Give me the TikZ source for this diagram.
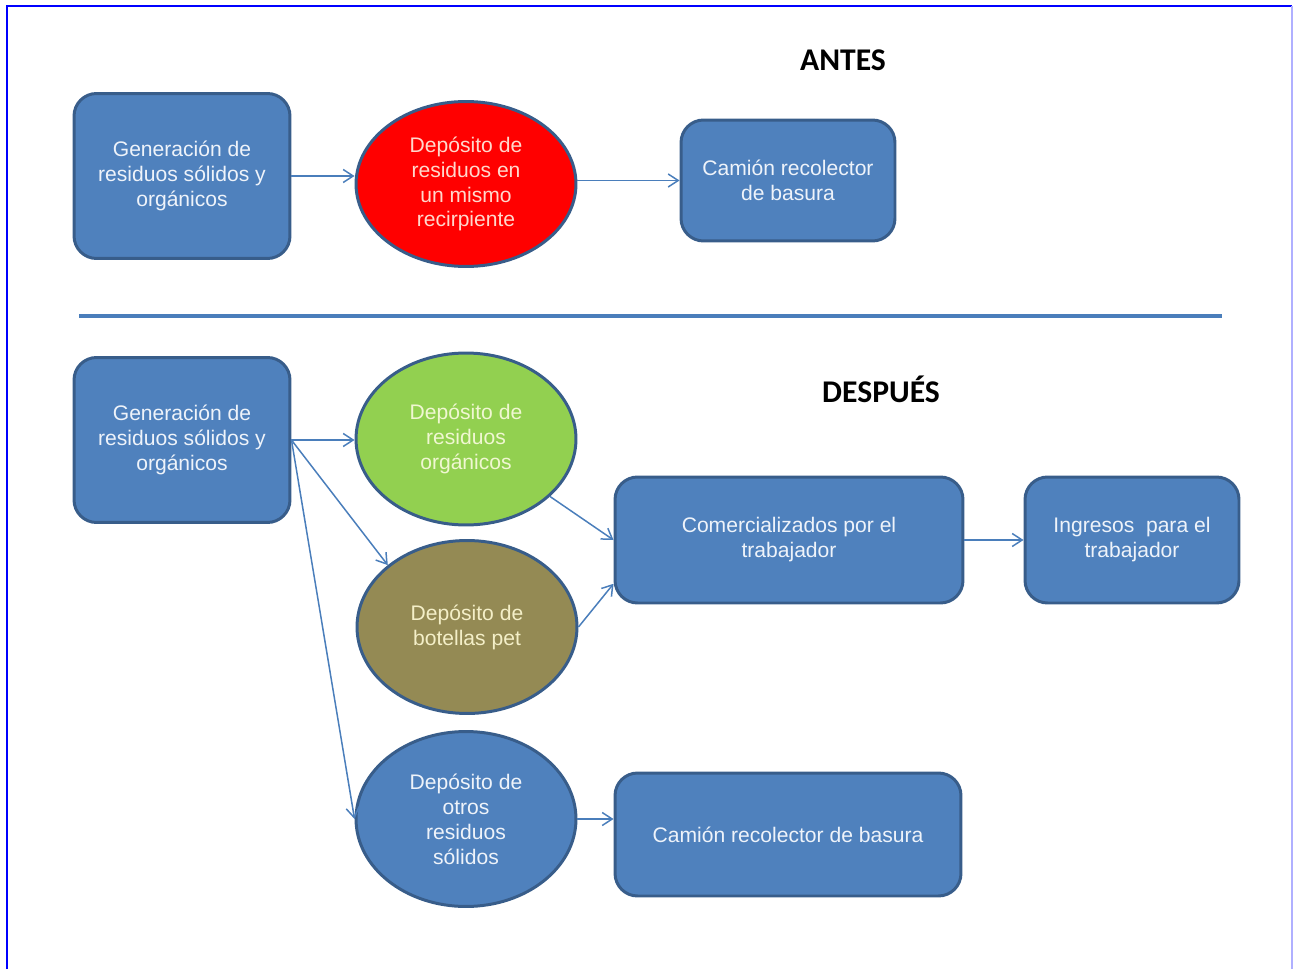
\documentclass[tikz,border=0pt]{standalone}
\usepackage{fontspec}
\setmainfont{Liberation Sans}
\newfontfamily\titlefont{Carlito}
\usepackage{tikz}
\usetikzlibrary{shapes.geometric, arrows.meta, positioning}

\definecolor{boxfill}{HTML}{4F81BD}
\definecolor{boxline}{HTML}{385D8A}
\definecolor{arrowblue}{HTML}{4A7EBB}
\definecolor{fillred}{HTML}{FF0000}
\definecolor{fillgreen}{HTML}{92D050}
\definecolor{fillbrown}{HTML}{948A54}
\definecolor{txtred}{HTML}{FFD8CC}
\definecolor{txtgreen}{HTML}{F0F7D2}
\definecolor{txtbrown}{HTML}{F4EFC8}
\definecolor{txtblue}{HTML}{EEF3FA}
\definecolor{frameblue}{HTML}{0000FF}
\definecolor{framelight}{HTML}{B0B0FF}

\begin{document}
\begin{tikzpicture}[x=0.02cm, y=-0.02cm,
    every node/.style={font=\fontsize{12}{14.2}\selectfont, align=center},
    box/.style={rectangle, rounded corners=0.45cm, draw=boxline, line width=1.7pt,
                fill=boxfill, text=txtblue, inner sep=0pt},
    bin/.style={ellipse, draw=boxline, line width=1.7pt, inner sep=0pt,
                minimum width=4.4cm},
    flow/.style={draw=arrowblue, line width=0.85pt,
                 -{Straight Barb[length=2mm, width=2.6mm]}},
    heading/.style={font=\titlefont\bfseries\fontsize{18}{21}\selectfont}]

    \useasboundingbox (0,0) rectangle (1293,969);
    \path[draw=frameblue, line width=1.2pt] (7,969) -- (7,6) -- (1292,6);
    \path[draw=framelight, line width=1.2pt] (1292,6) -- (1292,969);

    \node[heading] (antes) at (843,60) {ANTES};

    \node[box, minimum width=4.32cm, minimum height=3.3cm] (genA) at (182,176)
        {Generación de\\residuos sólidos y\\orgánicos};
    \node[bin, minimum height=3.3cm, fill=fillred, text=txtred] (mixto) at (466,184)
        {Depósito de\\residuos en\\un mismo\\recirpiente};
    \node[box, minimum width=4.28cm, minimum height=2.42cm] (camionA) at (788,180.5)
        {Camión recolector\\de basura};

    \path[flow] (genA.east) -- (genA.east -| mixto.west);
    \path[flow] (camionA.west -| mixto.east) -- (camionA.west);

    \path[draw=arrowblue, line width=2.4pt] (79,316) -- (1222,316);

    \node[heading] (despues) at (881,389) {DESPUÉS};

    \node[box, minimum width=4.32cm, minimum height=3.3cm] (genB) at (182,440)
        {Generación de\\residuos sólidos y\\orgánicos};
    \node[bin, minimum height=3.44cm, fill=fillgreen, text=txtgreen] (organicos) at (466,439)
        {Depósito de\\residuos\\orgánicos};
    \node[bin, minimum height=3.46cm, fill=fillbrown, text=txtbrown] (botellas) at (467,627)
        {Depósito de\\botellas pet};
    \node[bin, minimum height=3.5cm, fill=boxfill, text=txtblue] (otros) at (466,819)
        {Depósito de\\otros\\residuos\\sólidos};
    \node[box, minimum width=6.96cm, minimum height=2.52cm] (venta) at (789,540)
        {Comercializados por el\\trabajador};
    \node[box, minimum width=4.28cm, minimum height=2.52cm] (ingresos) at (1132,540)
        {Ingresos\ \ para el\\trabajador};
    \node[box, minimum width=6.92cm, minimum height=2.46cm] (camionB) at (788,834.5)
        {Camión recolector de basura};

    \path[flow] (genB.east) -- (genB.east -| organicos.west);
    \path[flow] (genB.east) -- (botellas.142);
    \path[flow] (genB.east) -- (otros.west);
    \path[flow] (organicos) -- (venta.west);
    \path[flow] (botellas.east) -- (venta.194);
    \path[flow] (venta) -- (ingresos);
    \path[flow] (otros.east) -- (otros.east -| camionB.west);

\end{tikzpicture}
\end{document}
